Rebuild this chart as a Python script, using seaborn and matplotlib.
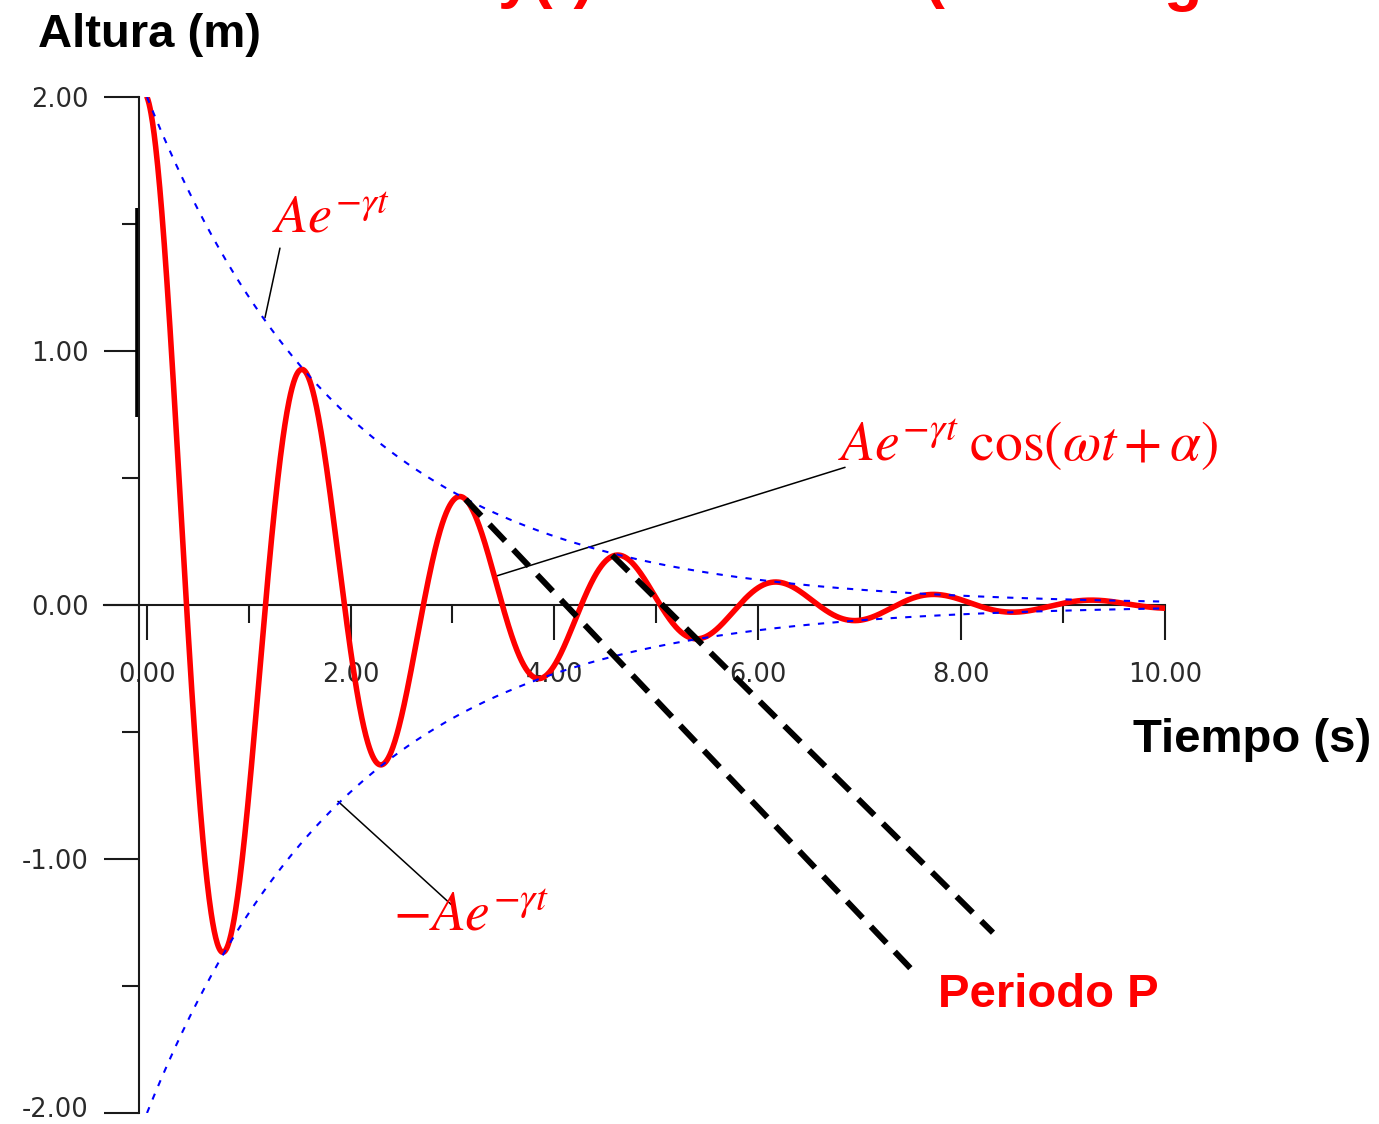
import numpy as np
import pandas as pd
import seaborn as sns
import matplotlib
matplotlib.use("Agg")
import matplotlib.pyplot as plt
import matplotlib.transforms as mtransforms

# --- values ---
amplitude = 2.0      # A
gamma = 0.5          # damping
omega = 4.05         # angular frequency
alpha = 0.0          # phase
t_start, t_end = 0.0, 10.0

x_major = [0, 2, 4, 6, 8, 10]
x_minor = [1, 3, 5, 7, 9]
x_labels = ["0.00", "2.00", "4.00", "6.00", "8.00", "10.00"]
y_major = [-2, -1, 0, 1, 2]
y_minor = [-1.5, -0.5, 0.5, 1.5]
y_labels = ["-2.00", "-1.00", "0.00", "1.00", "2.00"]

# dashed "Periodo P" guides (start near a peak, end near the label)
period_t0 = [3.13, 4.57]
period_y0 = [0.416, 0.196]
period_t1 = [7.57, 8.31]
period_y1 = [-1.46, -1.29]

W, H, DPI = 1379, 1124, 100


def px(x, y):
    """pixel position -> figure fraction"""
    return x / W, 1 - y / H


sns.set_theme(style="white")
plt.rcParams["font.family"] = ["Liberation Sans", "DejaVu Sans"]
plt.rcParams["mathtext.fontset"] = "stix"
plt.rcParams["axes.unicode_minus"] = False

t = np.linspace(t_start, t_end, 2001)
env = amplitude * np.exp(-gamma * t)
df = pd.DataFrame({
    "t": t,
    "y": env * np.cos(omega * t + alpha),
    "env": env,
    "neg_env": -env,
})

fig = plt.figure(figsize=(W / DPI, H / DPI), dpi=DPI)
x_left = -0.4224
ax = fig.add_axes([104 / W, 1 - 1113 / H, (1165 - 104) / W, (1113 - 97) / H])
ax.set_xlim(x_left, 10)
ax.set_ylim(-2, 2)

sns.lineplot(data=df, x="t", y="y", color="#ff0000", lw=4.0, ax=ax, zorder=3)
for col in ["env", "neg_env"]:
    sns.lineplot(data=df, x="t", y=col, color="#0000ff", lw=1.5,
                 linestyle=(0, (3.0, 4.0)), ax=ax, zorder=4)

for a, b, c, d in zip(period_t0, period_y0, period_t1, period_y1):
    ax.plot([a, c], [b, d], color="black", lw=4.3,
            linestyle=(0, (3.8, 2.0)), zorder=5)

ax.set_xlabel("")
ax.set_ylabel("")

# axes drawn through the origin like the original
for s in ["top", "right"]:
    ax.spines[s].set_visible(False)
ax.spines["left"].set_position(("data", -0.0786))
ax.spines["left"].set_bounds(-2, 2)
ax.spines["bottom"].set_position(("data", 0))
ax.spines["bottom"].set_bounds(x_left, 10)
for s in ["left", "bottom"]:
    ax.spines[s].set_color("#1a1a1a")
    ax.spines[s].set_linewidth(1.5)

# short heavy stroke on the y axis
ax.plot([-0.103, -0.103], [0.742, 1.562], color="black", lw=2.6,
        solid_capstyle="butt", clip_on=False, zorder=2)

ax.set_xticks(x_major)
ax.set_xticks(x_minor, minor=True)
ax.set_xticklabels(x_labels)
ax.set_yticks(y_major)
ax.set_yticks(y_minor, minor=True)
ax.set_yticklabels(y_labels)
ax.tick_params(axis="both", which="both", direction="out", width=1.5,
               color="#1a1a1a", labelcolor="#2a2a2a", bottom=True, left=True)
ax.tick_params(axis="x", which="major", length=25, pad=16, labelsize=18.5)
ax.tick_params(axis="x", which="minor", length=13)
ax.tick_params(axis="y", which="major", length=25, pad=11, labelsize=18.5)
ax.tick_params(axis="y", which="minor", length=12)
for lab in ax.get_xticklabels() + ax.get_yticklabels():
    lab.set_family("DejaVu Sans")
# lowest y label sits a little above its tick in the original
low = ax.get_yticklabels()[0]
low.set_transform(low.get_transform() +
                  mtransforms.ScaledTranslation(0, 4 / 72, fig.dpi_scale_trans))

# formula labels with leader lines
red = "#ff0000"
lead = dict(color="black", lw=1.1, zorder=2)
ax.text(1.228, 1.465, r"$Ae^{-\gamma t}$", color=red, fontsize=39,
        va="baseline", ha="left")
ax.plot([1.306, 1.159], [1.405, 1.131], **lead)
ax.text(6.788, 0.565, r"$Ae^{-\gamma t}\;\cos(\omega t+\alpha)$", color=red,
        fontsize=40, va="baseline", ha="left")
ax.plot([6.857, 3.399], [0.542, 0.110], **lead)
ax.text(2.417, -1.28, r"$-Ae^{-\gamma t}$", color=red, fontsize=40,
        va="baseline", ha="left")
ax.plot([2.996, 1.876], [-1.182, -0.773], **lead)

# axis titles and the period label
bold = dict(fontsize=34, fontweight="bold", family="Liberation Sans",
            va="baseline", ha="left")
fig.text(*px(38, 47), "Altura (m)", color="black", **bold)
fig.text(*px(1133, 752), "Tiempo (s)", color="black", **bold)
fig.text(*px(938, 1007), "Periodo P", color=red, **bold)

# bottom edges of the cut-off slide title
top = dict(fontsize=45, fontweight="bold", family="Liberation Sans",
           va="baseline", ha="left", color=red)
fig.text(*px(498, -4), "y(t)", **top)
fig.text(*px(924, -4), "(", **top)
fig.text(*px(1163, -1), "g", **top)

fig.savefig("out.png", dpi=DPI)
